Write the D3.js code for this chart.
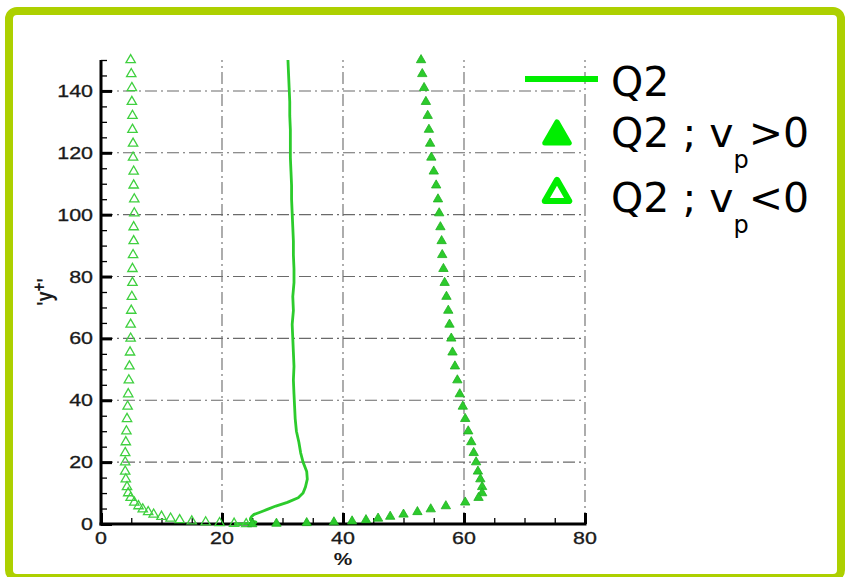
<!DOCTYPE html>
<html>
<head>
<meta charset="utf-8">
<script src="https://cdn.jsdelivr.net/npm/d3@7"></script>
<style>
  html, body { margin: 0; padding: 0; background: #fff; }
  svg { display: block; }
</style>
</head>
<body>
<svg id="chart"></svg>
<script>
// wall-normal positions (y+), shared by the three series
const yPlus = [150, 145.5, 141, 136.5, 132, 127.5, 123, 118.5, 114, 109.5, 105, 100.5,
  96, 91.5, 87, 82.5, 78, 73.5, 69, 64.5, 60, 55.5, 51, 46.5, 42, 38, 34, 30, 26.5,
  23, 20, 17, 14.5, 12, 10, 8.5, 7, 5.8, 4.8, 3.9, 3.1, 2.4, 1.8, 1.3, 0.9, 0.6,
  0.35, 0.15, 0];

// Q2 total (%)
const q2All = [30.9, 31.0, 31.1, 31.2, 31.2, 31.3, 31.3, 31.3, 31.4, 31.5, 31.5, 31.6,
  31.7, 31.8, 31.8, 31.9, 31.9, 31.7, 31.8, 31.6, 31.7, 31.8, 31.9, 31.8, 31.9, 32.0,
  32.1, 32.3, 32.7, 33.0, 33.4, 34.0, 34.1, 33.8, 33.4, 32.6, 30.8, 28.9, 27.6, 26.4,
  25.3, 24.9, 24.7, 24.7, 25.2, 25.6, 25.5, 24.0, 22.0];

// Q2 ; vp > 0 (%)
const q2Pos = [52.9, 53.1, 53.4, 53.7, 54.0, 54.2, 54.4, 54.6, 55.0, 55.4, 55.7, 55.9,
  56.1, 56.3, 56.4, 56.6, 56.8, 57.1, 57.4, 57.6, 57.9, 58.1, 58.5, 58.9, 59.3, 59.8,
  60.2, 60.7, 61.2, 61.6, 62.0, 62.3, 62.7, 63.0, 63.0, 62.4, 60.2, 57.0, 54.5, 52.3,
  50.0, 47.8, 45.8, 43.8, 41.5, 38.5, 34.0, 29.0, 25.0];

// Q2 ; vp < 0 (%)
const q2Neg = [4.9, 5.0, 5.1, 5.1, 5.2, 5.2, 5.3, 5.3, 5.4, 5.4, 5.5, 5.5,
  5.4, 5.4, 5.3, 5.2, 5.2, 5.1, 5.0, 4.9, 4.9, 4.8, 4.7, 4.6, 4.5, 4.4,
  4.3, 4.2, 4.1, 4.0, 4.0, 4.0, 4.1, 4.3, 4.5, 4.9, 5.5, 6.2, 6.9, 7.8,
  8.7, 10.0, 11.5, 13.0, 15.0, 17.3, 19.6, 22.0, 24.0];

const xTicks = [0, 20, 40, 60, 80];
const yTicks = [0, 20, 40, 60, 80, 100, 120, 140];

const width = 846;
const height = 577;
const seriesColor = "#2ccb2c";
const legendColor = "#00ee00";
const axisFont = "Liberation Sans, Arial, sans-serif";

const svg = d3.select("#chart").attr("width", width).attr("height", height);

// green rounded frame
svg.append("rect")
  .attr("x", 9).attr("y", 11)
  .attr("width", 832).attr("height", 567)
  .attr("rx", 8)
  .attr("fill", "#fff")
  .attr("stroke", "#add000")
  .attr("stroke-width", 8);

const x = d3.scaleLinear().domain([0, 80]).range([101, 585]);
const y = d3.scaleLinear().domain([0, 150]).range([524, 60]);

// dash-dot grid
const grid = svg.append("g")
  .attr("stroke", "#6a6a6a")
  .attr("stroke-width", 1.1)
  .attr("stroke-dasharray", "12,4,2,4")
  .attr("fill", "none");

grid.selectAll(".vgrid")
  .data(xTicks.filter(d => d > 0))
  .join("line")
  .attr("class", "vgrid")
  .attr("x1", d => x(d)).attr("x2", d => x(d))
  .attr("y1", y(0)).attr("y2", y(150));

grid.selectAll(".hgrid")
  .data(yTicks.filter(d => d > 0))
  .join("line")
  .attr("class", "hgrid")
  .attr("x1", x(0)).attr("x2", x(80))
  .attr("y1", d => y(d)).attr("y2", d => y(d));

// axes: ticks pointing inward, minor every 5
const xAxis = svg.append("g")
  .attr("transform", `translate(0,${y(0)})`)
  .call(d3.axisTop(x).tickValues(d3.range(0, 81, 5)).tickSize(6).tickFormat(""));
xAxis.selectAll(".tick line")
  .attr("y2", d => d % 20 === 0 ? -11 : -6)
  .attr("stroke-width", d => d % 20 === 0 ? 3 : 1.3);
xAxis.select(".domain").remove();

const yAxis = svg.append("g")
  .attr("transform", `translate(${x(0)},0)`)
  .call(d3.axisRight(y).tickValues(d3.range(0, 151, 5)).tickSize(6).tickFormat(""));
yAxis.selectAll(".tick line")
  .attr("x2", d => d % 20 === 0 ? 11 : 6)
  .attr("stroke-width", d => d % 20 === 0 ? 3 : 1.3);
yAxis.select(".domain").remove();

svg.append("line")
  .attr("x1", x(0) - 1.5).attr("x2", x(80) + 1.5)
  .attr("y1", y(0)).attr("y2", y(0))
  .attr("stroke", "#000").attr("stroke-width", 3);
svg.append("line")
  .attr("x1", x(0)).attr("x2", x(0))
  .attr("y1", y(0) + 1.5).attr("y2", y(150))
  .attr("stroke", "#000").attr("stroke-width", 3);

// tick labels (the source picture is stretched sideways)
svg.selectAll(".xlabel")
  .data(xTicks)
  .join("text")
  .attr("class", "xlabel")
  .attr("transform", d => `translate(${x(d)},544) scale(1.3,1)`)
  .attr("text-anchor", "middle")
  .attr("font-family", axisFont)
  .attr("font-size", "16.5px")
  .attr("stroke", "#1a1a1a")
  .attr("stroke-width", 0.3)
  .attr("fill", "#1a1a1a")
  .text(d => d);

svg.selectAll(".ylabel")
  .data(yTicks)
  .join("text")
  .attr("class", "ylabel")
  .attr("transform", d => `translate(93,${y(d) + 6}) scale(1.3,1)`)
  .attr("text-anchor", "end")
  .attr("font-family", axisFont)
  .attr("font-size", "16.5px")
  .attr("stroke", "#1a1a1a")
  .attr("stroke-width", 0.3)
  .attr("fill", "#1a1a1a")
  .text(d => d);

// axis titles
svg.append("text")
  .attr("transform", `translate(${x(40)},565) scale(1.3,1)`)
  .attr("text-anchor", "middle")
  .attr("font-family", axisFont)
  .attr("font-size", "16px")
  .attr("font-weight", "bold")
  .attr("fill", "#1a1a1a")
  .text("%");

const yTitle = svg.append("text")
  .attr("transform", "translate(52,292) rotate(-90) scale(1,1.25)")
  .attr("text-anchor", "middle")
  .attr("font-family", axisFont)
  .attr("font-size", "18px")
  .attr("font-weight", "bold")
  .attr("fill", "#1a1a1a");
yTitle.append("tspan").text("'y");
yTitle.append("tspan").attr("dy", -6).attr("font-size", "15px").text("+");
yTitle.append("tspan").attr("dy", 6).text("'");

// data
const rows = yPlus.map((v, i) => ({ y: v, all: q2All[i], pos: q2Pos[i], neg: q2Neg[i] }));

svg.append("path")
  .datum(rows)
  .attr("fill", "none")
  .attr("stroke", seriesColor)
  .attr("stroke-width", 2.8)
  .attr("stroke-linejoin", "round")
  .attr("d", d3.line().x(d => x(d.all)).y(d => y(d.y)));

const tri = d3.symbol().type(d3.symbolTriangle).size(38);

svg.append("g").selectAll("path")
  .data(rows)
  .join("path")
  .attr("transform", d => `translate(${x(d.neg)},${y(d.y)})`)
  .attr("d", tri)
  .attr("fill", "none")
  .attr("stroke", "#3fd03f")
  .attr("stroke-width", 1.3);

svg.append("g").selectAll("path")
  .data(rows)
  .join("path")
  .attr("transform", d => `translate(${x(d.pos)},${y(d.y)})`)
  .attr("d", tri)
  .attr("fill", seriesColor)
  .attr("stroke", "#1fb01f")
  .attr("stroke-width", 0.8);

// legend
const legendFont = "DejaVu Sans, Verdana, sans-serif";
const lg = svg.append("g");

lg.append("line")
  .attr("x1", 525).attr("x2", 598)
  .attr("y1", 79).attr("y2", 79)
  .attr("stroke", legendColor).attr("stroke-width", 6);

const bigTri = d3.symbol().type(d3.symbolTriangle).size(260);
lg.append("path")
  .attr("transform", "translate(557,136)")
  .attr("d", bigTri)
  .attr("fill", legendColor)
  .attr("stroke", legendColor)
  .attr("stroke-width", 5)
  .attr("stroke-linejoin", "round");
lg.append("path")
  .attr("transform", "translate(557,194)")
  .attr("d", bigTri)
  .attr("fill", "#fff")
  .attr("stroke", legendColor)
  .attr("stroke-width", 6)
  .attr("stroke-linejoin", "round");

const legendLabels = [
  { y: 96, main: "Q2", sub: null, tail: null },
  { y: 147, main: "Q2 ; v", sub: "p", tail: ">0" },
  { y: 212, main: "Q2 ; v", sub: "p", tail: "<0" }
];

legendLabels.forEach(l => {
  const t = lg.append("text")
    .attr("x", 611).attr("y", l.y)
    .attr("font-family", legendFont)
    .attr("font-size", "41px")
    .attr("fill", "#000");
  t.append("tspan").text(l.main);
  if (l.sub) {
    t.append("tspan").attr("dy", 21).attr("font-size", "24px").text(l.sub);
    t.append("tspan").attr("dy", -21).text(l.tail);
  }
});
</script>
</body>
</html>
